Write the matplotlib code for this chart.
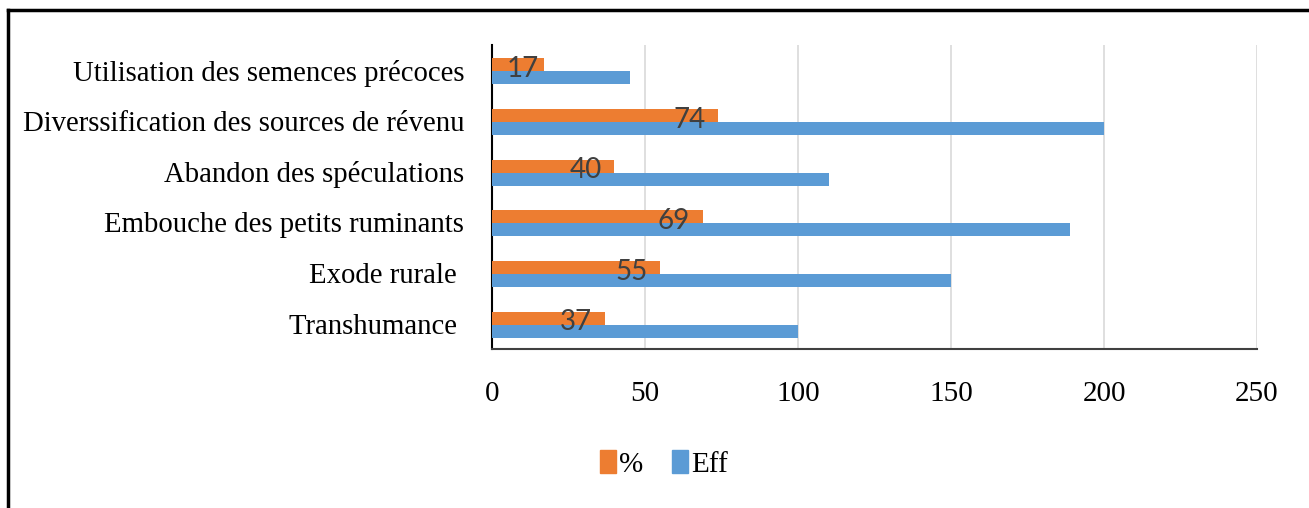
import matplotlib
matplotlib.use("Agg")
import matplotlib.pyplot as plt
from matplotlib.lines import Line2D
from matplotlib.patches import Patch
import numpy as np

categories = ["Utilisation des semences précoces",
              "Diverssification des sources de révenu",
              "Abandon des spéculations",
              "Embouche des petits ruminants",
              "Exode rurale ",
              "Transhumance "]
pct = [17, 74, 40, 69, 55, 37]
eff = [45, 200, 110, 189, 150, 100]
xticks = [0, 50, 100, 150, 200, 250]

ORANGE = "#ED7D31"
BLUE = "#5B9BD5"

fig = plt.figure(figsize=(13.09, 5.08), dpi=100)
ax = fig.add_axes([492/1309, 1-349/508, (1257-492)/1309, (349-45)/508])

y = np.arange(len(categories))
h = 0.257
ax.barh(y - h/2 + 0.02, pct, height=h, color=ORANGE, zorder=3)
ax.barh(y + h/2 + 0.02, eff, height=h, color=BLUE, zorder=3)

for yi, v in zip(y, pct):
    xc = max(v - 9.5, 10)
    ax.text(xc, yi - h/2 + 0.1, str(v), ha="center", va="center",
            fontsize=20, color="#404040", family="Lato", zorder=4)

ax.set_ylim(len(categories) - 0.5, -0.5)
ax.set_xlim(0, 250)
ax.set_xticks(xticks)
ax.set_xticklabels([str(t) for t in xticks], family="Liberation Serif", fontsize=21)
ax.set_yticks(y)
ax.set_yticklabels(categories, family="Liberation Serif", fontsize=20.7)
ax.tick_params(axis="x", length=0, pad=23)
ax.tick_params(axis="y", length=0, pad=20)
ax.grid(axis="x", color="#D9D9D9", linewidth=1.2, zorder=0)
for s in ["top", "right"]:
    ax.spines[s].set_visible(False)
ax.spines["left"].set_color("black")
ax.spines["left"].set_linewidth(1.5)
ax.spines["bottom"].set_color("#404040")
ax.spines["bottom"].set_linewidth(1.5)

handles = [Patch(color=ORANGE, label="%"), Patch(color=BLUE, label="Eff")]
fig.legend(handles=handles, loc="center", bbox_to_anchor=(664/1309, 1-464/508),
           ncol=2, frameon=False, prop={"family": "Liberation Serif", "size": 21},
           handlelength=0.55, handleheight=0.8, handletextpad=0.1, columnspacing=1.0)

# outer frame
fig.add_artist(Line2D([8/1309, 8/1309], [0, 1-10/508], color="black", linewidth=2.5,
                      transform=fig.transFigure))
fig.add_artist(Line2D([8/1309, 1], [1-10/508, 1-10/508], color="black", linewidth=2.5,
                      transform=fig.transFigure))

fig.savefig("out.png", dpi=100)
